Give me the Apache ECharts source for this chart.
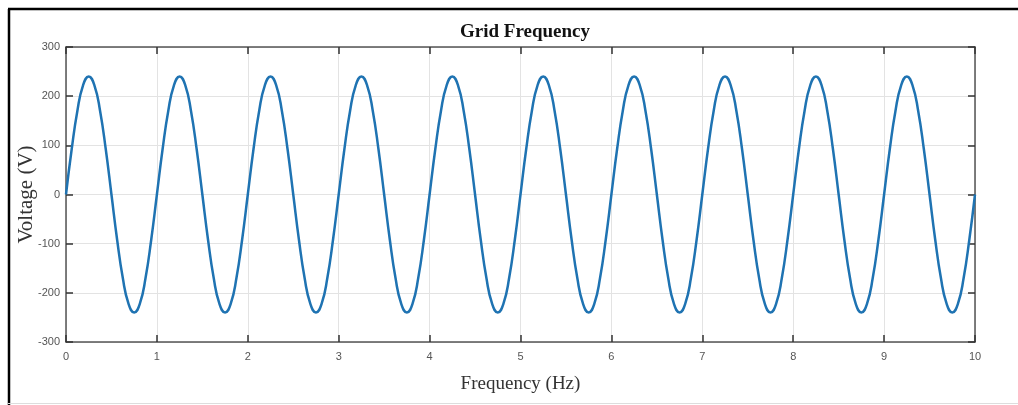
<!DOCTYPE html>
<html>
<head>
<meta charset="UTF-8">
<title>Grid Frequency</title>
<script src="https://cdn.jsdelivr.net/npm/echarts@6/dist/echarts.min.js"></script>
<style>
  html, body { margin: 0; padding: 0; background: #fff; }
  #main { width: 1018px; height: 405px; }
</style>
</head>
<body>
<div id="main"></div>
<script type="text/javascript">
var sampleStep = 0.0625;
var voltage = [
  0, 92, 170, 222, 240, 222, 170, 92, 0, -92, -170, -222, -240, -222, -170, -92,
  0, 92, 170, 222, 240, 222, 170, 92, 0, -92, -170, -222, -240, -222, -170, -92,
  0, 92, 170, 222, 240, 222, 170, 92, 0, -92, -170, -222, -240, -222, -170, -92,
  0, 92, 170, 222, 240, 222, 170, 92, 0, -92, -170, -222, -240, -222, -170, -92,
  0, 92, 170, 222, 240, 222, 170, 92, 0, -92, -170, -222, -240, -222, -170, -92,
  0, 92, 170, 222, 240, 222, 170, 92, 0, -92, -170, -222, -240, -222, -170, -92,
  0, 92, 170, 222, 240, 222, 170, 92, 0, -92, -170, -222, -240, -222, -170, -92,
  0, 92, 170, 222, 240, 222, 170, 92, 0, -92, -170, -222, -240, -222, -170, -92,
  0, 92, 170, 222, 240, 222, 170, 92, 0, -92, -170, -222, -240, -222, -170, -92,
  0, 92, 170, 222, 240, 222, 170, 92, 0, -92, -170, -222, -240, -222, -170, -92,
  0
];
var xTicks = [0, 1, 2, 3, 4, 5, 6, 7, 8, 9, 10];
var yTicks = [-300, -200, -100, 0, 100, 200, 300];

var points = voltage.map(function (v, i) { return [i * sampleStep, v]; });

var axisColor = '#555';
var labelColor = '#555';
var tickFont = { color: labelColor, fontSize: 11, fontFamily: 'Liberation Sans, Arial, sans-serif' };

var myChart = echarts.init(document.getElementById('main'));
var option = {
  animation: false,
  title: {
    text: 'Grid Frequency',
    left: 520, top: 18, textAlign: 'center',
    textStyle: { fontFamily: 'Liberation Serif, Times New Roman, serif', fontSize: 19, fontWeight: 'bold', color: '#111' }
  },
  graphic: [
    { type: 'line', shape: { x1: 8, y1: 9, x2: 1018, y2: 9 }, style: { stroke: '#000', lineWidth: 2.5 } },
    { type: 'line', shape: { x1: 9, y1: 9, x2: 9, y2: 405 }, style: { stroke: '#000', lineWidth: 2.5 } },
    { type: 'line', shape: { x1: 8, y1: 403.5, x2: 1018, y2: 403.5 }, style: { stroke: '#ddd', lineWidth: 1 } }
  ],
  grid: { left: 66, top: 47, right: 43, bottom: 63, outerBoundsMode: 'none', containLabel: false },
  xAxis: [{
    type: 'value', min: xTicks[0], max: xTicks[xTicks.length - 1], interval: 1,
    name: 'Frequency (Hz)', nameLocation: 'middle', nameGap: 33, nameMoveOverlap: false,
    nameTextStyle: { fontFamily: 'Liberation Serif, Times New Roman, serif', fontSize: 19, color: '#333' },
    axisLine: { show: true, onZero: false, lineStyle: { color: axisColor, width: 1.5 } },
    axisTick: { show: true, inside: true, length: 7, lineStyle: { color: '#333', width: 1.5 } },
    axisLabel: Object.assign({ margin: 9 }, tickFont),
    splitLine: { show: true, lineStyle: { color: '#e3e3e3', width: 1 } }
  }, {
    type: 'value', position: 'top', min: xTicks[0], max: xTicks[xTicks.length - 1], interval: 1,
    axisLine: { show: true, onZero: false, lineStyle: { color: axisColor, width: 1.5 } },
    axisTick: { show: true, inside: true, length: 7, lineStyle: { color: '#333', width: 1.5 } },
    axisLabel: { show: false }, splitLine: { show: false }
  }],
  yAxis: [{
    type: 'value', min: yTicks[0], max: yTicks[yTicks.length - 1], interval: 100,
    name: 'Voltage (V)', nameLocation: 'middle', nameGap: 29, nameMoveOverlap: false,
    nameTextStyle: { fontFamily: 'Liberation Serif, Times New Roman, serif', fontSize: 21, color: '#333' },
    axisLine: { show: true, onZero: false, lineStyle: { color: axisColor, width: 1.5 } },
    axisTick: { show: true, inside: true, length: 7, lineStyle: { color: '#333', width: 1.5 } },
    axisLabel: Object.assign({ margin: 6 }, tickFont),
    splitLine: { show: true, lineStyle: { color: '#e3e3e3', width: 1 } }
  }, {
    type: 'value', position: 'right', min: yTicks[0], max: yTicks[yTicks.length - 1], interval: 100,
    axisLine: { show: true, onZero: false, lineStyle: { color: axisColor, width: 1.5 } },
    axisTick: { show: true, inside: true, length: 7, lineStyle: { color: '#333', width: 1.5 } },
    axisLabel: { show: false }, splitLine: { show: false }
  }],
  series: [{
    type: 'line',
    data: points,
    smooth: true,
    showSymbol: false,
    lineStyle: { color: '#1f73b2', width: 2.5 },
    itemStyle: { color: '#1f73b2' }
  }]
};
myChart.setOption(option);
</script>
</body>
</html>
